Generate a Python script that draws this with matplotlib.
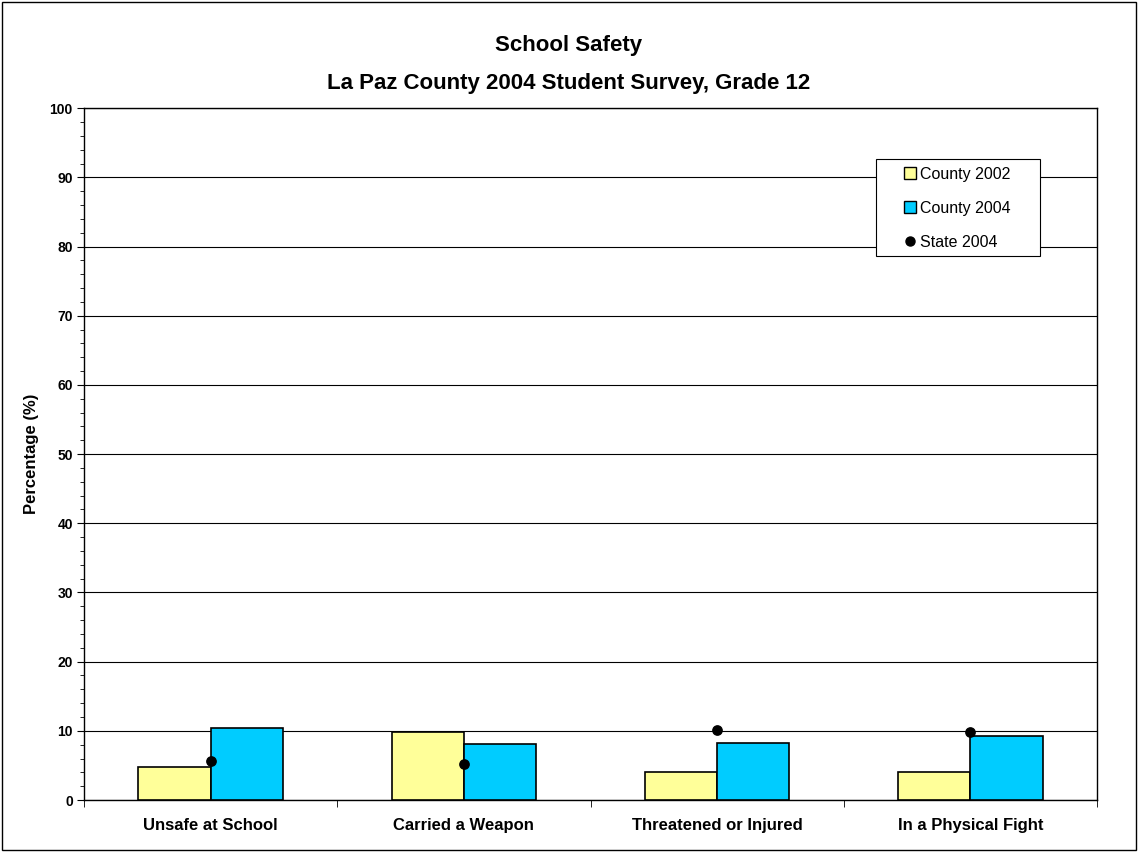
import matplotlib
matplotlib.use('Agg')
import matplotlib.pyplot as plt
from matplotlib.patches import Patch, Rectangle
from matplotlib.lines import Line2D
import numpy as np

plt.rcParams['font.family'] = ['Liberation Sans', 'DejaVu Sans']

categories = ['Unsafe at School', 'Carried a Weapon', 'Threatened or Injured', 'In a Physical Fight']
county_2002 = [4.8, 9.9, 4.0, 4.0]
county_2004 = [10.4, 8.1, 8.2, 9.3]
state_2004 = [5.6, 5.2, 10.1, 9.9]

fig = plt.figure(figsize=(11.38, 8.52), dpi=100)
ax = fig.add_axes([0.0738, 0.061, 0.8902, 0.812])

x = np.arange(len(categories))
w = 0.285
ax.bar(x - w / 2, county_2002, w, color='#FFFF99', edgecolor='black', linewidth=1.2, zorder=3)
ax.bar(x + w / 2, county_2004, w, color='#00CCFF', edgecolor='black', linewidth=1.2, zorder=3)
ax.scatter(x, state_2004, s=45, color='black', zorder=4)

ax.set_xlim(-0.5, len(categories) - 0.5)
ax.set_ylim(0, 100)
ax.set_yticks(range(0, 101, 10))
ax.set_yticks(range(0, 101, 2), minor=True)
ax.yaxis.grid(True, color='black', linewidth=0.8, zorder=0)
ax.set_xticks(x)
ax.set_xticklabels(categories, fontsize=12, fontweight='bold')
ax.tick_params(axis='x', length=0, pad=13)
ax.set_xticks(np.arange(-0.5, len(categories)), minor=True)
ax.tick_params(axis='x', which='minor', length=5, direction='out')
ax.tick_params(axis='y', which='major', length=5, labelsize=10, pad=3)
ax.tick_params(axis='y', which='minor', length=3)
for t in ax.get_yticklabels():
    t.set_fontweight('bold')
for s in ax.spines.values():
    s.set_linewidth(1.0)
ax.set_ylabel('Percentage (%)', fontsize=12, fontweight='bold', labelpad=8)

fig.text(0.5, 1 - 45 / 852, 'School Safety', ha='center', va='center', fontsize=16, fontweight='bold')
fig.text(0.5, 1 - 84 / 852, 'La Paz County 2004 Student Survey, Grade 12', ha='center', va='center',
         fontsize=16, fontweight='bold')

handles = [
    Patch(facecolor='#FFFF99', edgecolor='black', label='County 2002'),
    Patch(facecolor='#00CCFF', edgecolor='black', label='County 2004'),
    Line2D([], [], marker='o', color='black', linestyle='None', markersize=6.5, label='State 2004'),
]
# legend box drawn by hand (Excel style, wide padding)
box_l, box_r, box_t, box_b = 876, 1040, 159, 256
ax_l, ax_r, ax_t, ax_b = 84, 1097, 108, 800
def to_ax(px, py):
    return (px - ax_l) / (ax_r - ax_l), (ax_b - py) / (ax_b - ax_t)
bl = to_ax(box_l, box_b)
tr = to_ax(box_r, box_t)
ax.add_patch(Rectangle(bl, tr[0] - bl[0], tr[1] - bl[1], transform=ax.transAxes,
                       facecolor='white', edgecolor='black', linewidth=0.8, zorder=5))
cx, cy = to_ax(957, 208)
leg = ax.legend(handles=handles, loc='center', bbox_to_anchor=(cx, cy),
                fontsize=11.5, frameon=False,
                handlelength=0.75, handleheight=0.75, handletextpad=0.25, labelspacing=1.2,
                borderpad=0, borderaxespad=0)
leg.set_zorder(6)

fig.patches.append(Rectangle((0.002, 0.002), 0.996, 0.996, transform=fig.transFigure,
                             fill=False, edgecolor='black', linewidth=1.0))

fig.savefig('out.png', dpi=100)
